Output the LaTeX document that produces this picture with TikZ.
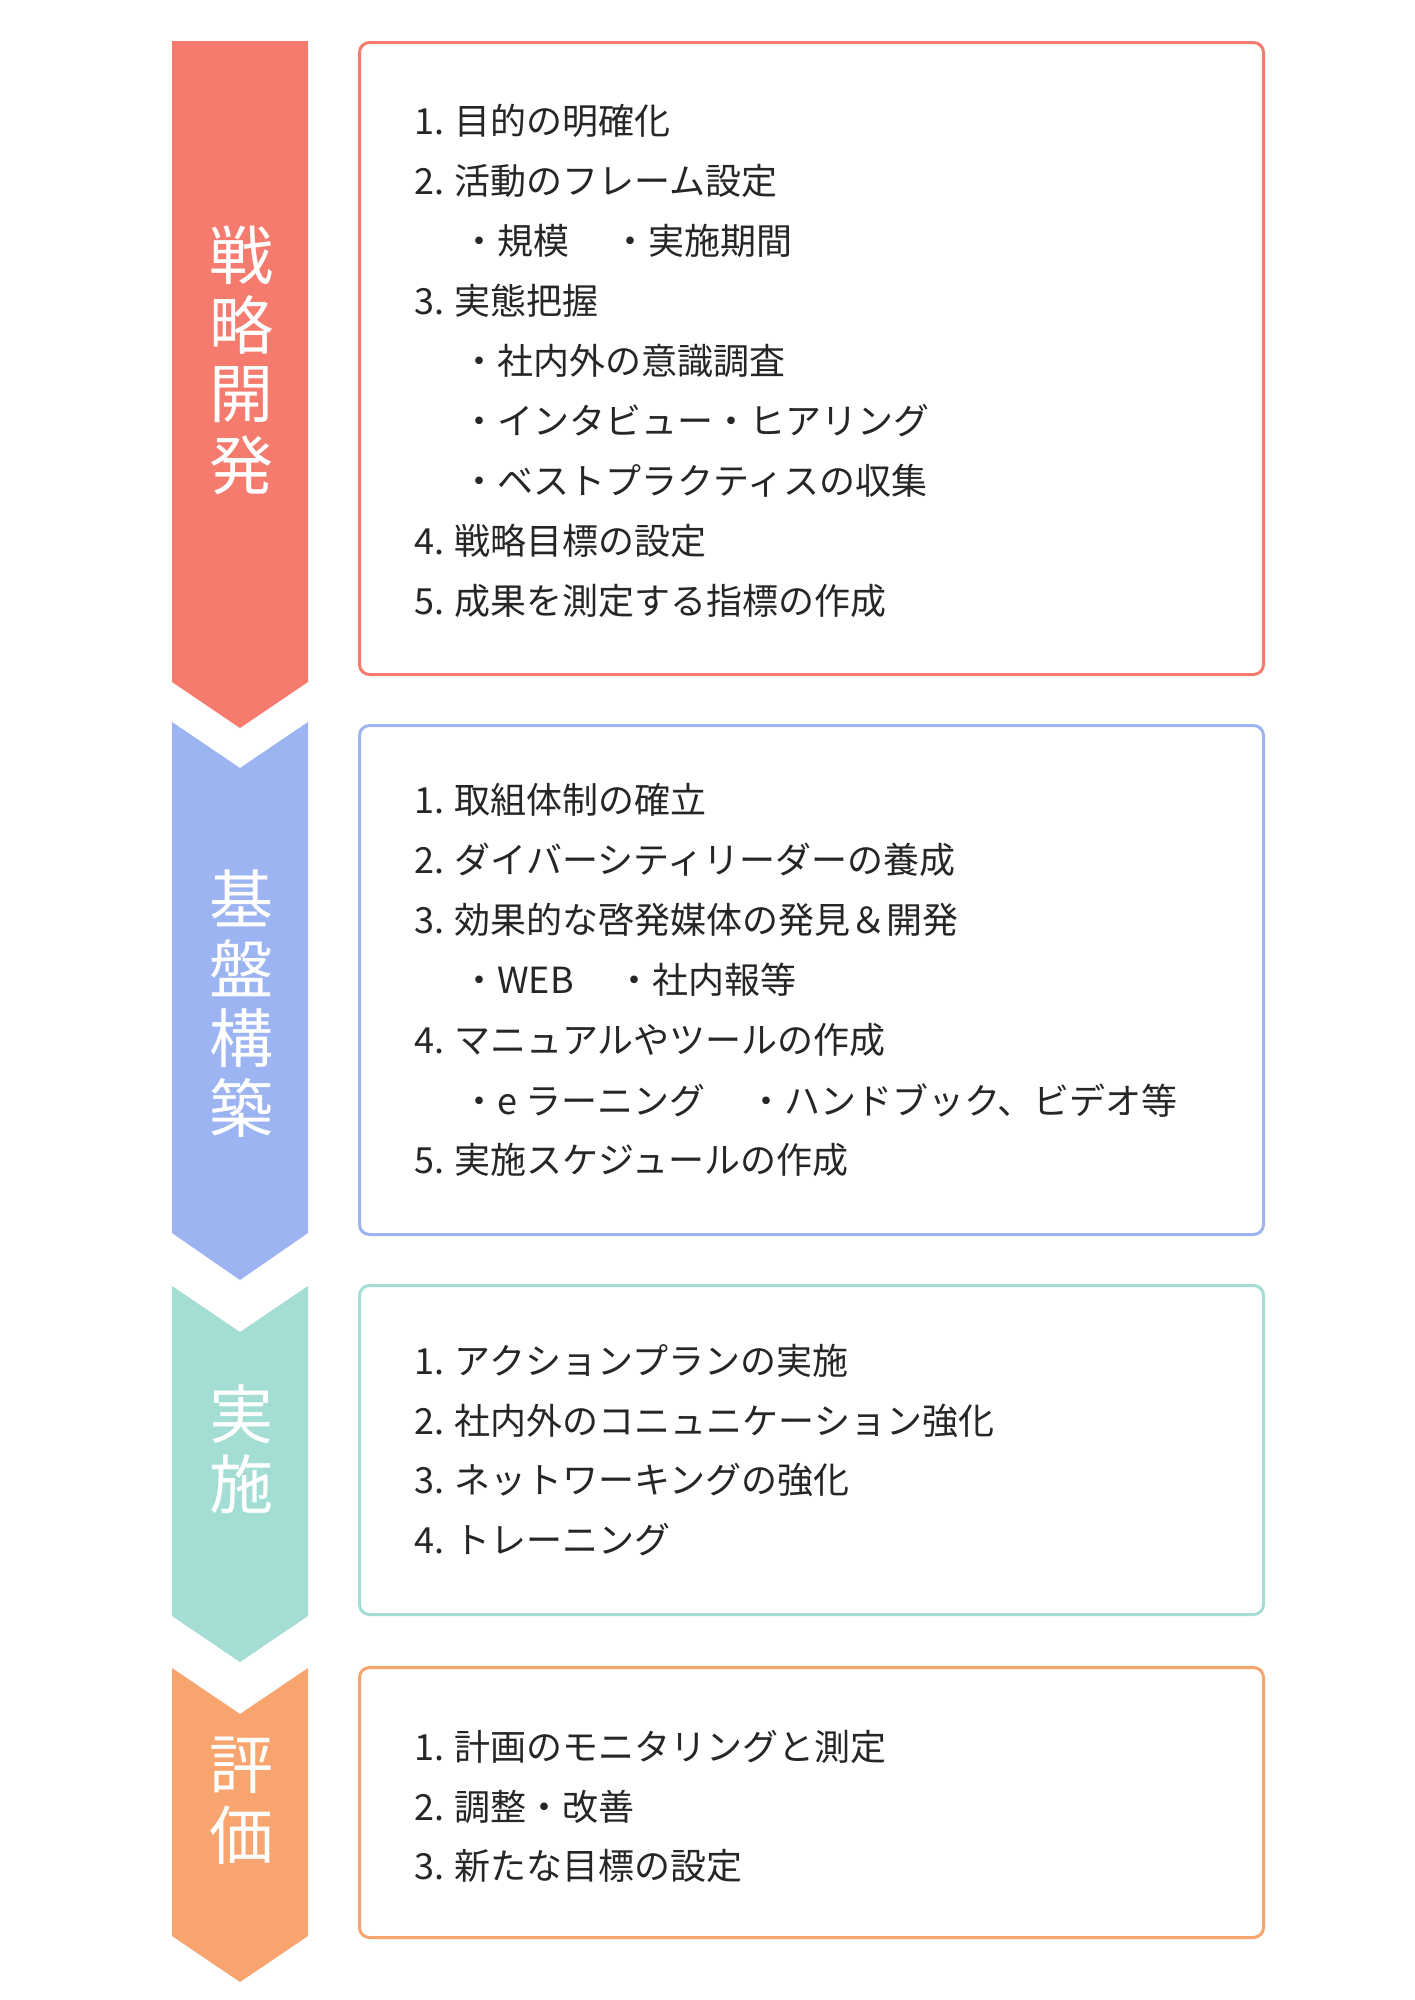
\documentclass[tikz,border=0pt]{standalone}
\usepackage{fontspec}
\setmainfont{Noto Sans CJK JP}
\begin{document}
\begin{tikzpicture}[x=1pt,y=-1pt,
  box/.style={draw,line width=3pt,rounded corners=10pt},
  itm/.style={anchor=west,font=\fontsize{36}{40}\selectfont,text=black!85,inner sep=0pt},
  lab/.style={text=white,font=\fontsize{64}{66}\selectfont,inner sep=0pt}]
\definecolor{cA}{HTML}{F47B6E}\definecolor{cB}{HTML}{9DB4F2}
\definecolor{cC}{HTML}{A4DDD3}\definecolor{cD}{HTML}{F7A46E}
\useasboundingbox (0,0) rectangle (1414,2000);
\fill[white] (0,0) rectangle (1414,2000);
% arrows
\fill[cA] (172,41) -- (308,41) -- (308,682) -- (240,728) -- (172,682) -- cycle;
\fill[cB] (172,722) -- (240,768) -- (308,722) -- (308,1233) -- (240,1280) -- (172,1233) -- cycle;
\fill[cC] (172,1286) -- (240,1332) -- (308,1286) -- (308,1616) -- (240,1662) -- (172,1616) -- cycle;
\fill[cD] (172,1668) -- (240,1714) -- (308,1668) -- (308,1936) -- (240,1982) -- (172,1936) -- cycle;
% labels
\foreach \c/\y [count=\i] in {戦/255,略/325,開/395,発/465} \node[lab] (la\i) at (241,\y) {\c};
\foreach \c/\y [count=\i] in {基/898,盤/968,構/1038,築/1108} \node[lab] (lb\i) at (241,\y) {\c};
\foreach \c/\y [count=\i] in {実/1414,施/1484} \node[lab] (lc\i) at (241,\y) {\c};
\foreach \c/\y [count=\i] in {評/1765,価/1835} \node[lab] (ld\i) at (241,\y) {\c};
% boxes
\node[box,draw=cA,minimum width=904pt,minimum height=632pt,anchor=north west] (bA) at (358,41) {};
\node[box,draw=cB,minimum width=904pt,minimum height=509pt,anchor=north west] (bB) at (358,724) {};
\node[box,draw=cC,minimum width=904pt,minimum height=329pt,anchor=north west] (bC) at (358,1284) {};
\node[box,draw=cD,minimum width=904pt,minimum height=270pt,anchor=north west] (bD) at (358,1666) {};
% items
\node[itm] (a1) at (414,121) {1. 目的の明確化};
\node[itm] (a2) at (414,181) {2. 活動のフレーム設定};
\node[itm] (a3) at (461,241) {・規模\hspace{1.2em}・実施期間};
\node[itm] (a4) at (414,301) {3. 実態把握};
\node[itm] (a5) at (461,361) {・社内外の意識調査};
\node[itm] (a6) at (461,421) {・インタビュー・ヒアリング};
\node[itm] (a7) at (461,481) {・ベストプラクティスの収集};
\node[itm] (a8) at (414,541) {4. 戦略目標の設定};
\node[itm] (a9) at (414,601) {5. 成果を測定する指標の作成};
\node[itm] (b1) at (414,800) {1. 取組体制の確立};
\node[itm] (b2) at (414,860) {2. ダイバーシティリーダーの養成};
\node[itm] (b3) at (414,920) {3. 効果的な啓発媒体の発見＆開発};
\node[itm] (b4) at (461,980) {・WEB\hspace{1.2em}・社内報等};
\node[itm] (b5) at (414,1040) {4. マニュアルやツールの作成};
\node[itm] (b6) at (461,1100) {・e ラーニング\hspace{1.2em}・ハンドブック、ビデオ等};
\node[itm] (b7) at (414,1160) {5. 実施スケジュールの作成};
\node[itm] (c1) at (414,1361) {1. アクションプランの実施};
\node[itm] (c2) at (414,1421) {2. 社内外のコニュニケーション強化};
\node[itm] (c3) at (414,1480) {3. ネットワーキングの強化};
\node[itm] (c4) at (414,1540) {4. トレーニング};
\node[itm] (d1) at (414,1747) {1. 計画のモニタリングと測定};
\node[itm] (d2) at (414,1807) {2. 調整・改善};
\node[itm] (d3) at (414,1866) {3. 新たな目標の設定};
\end{tikzpicture}
\end{document}
